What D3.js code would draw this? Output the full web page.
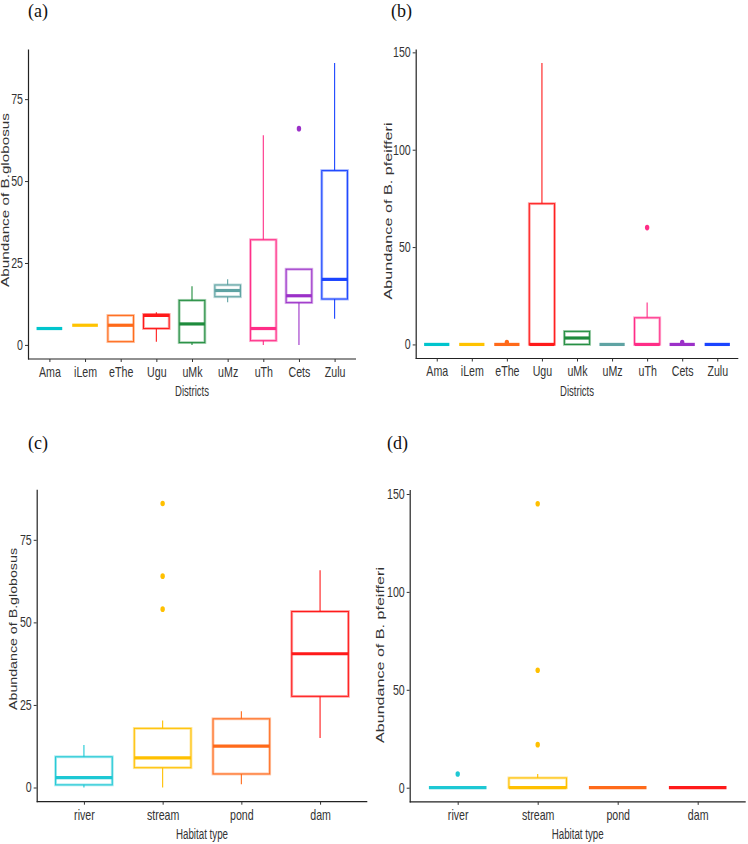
<!DOCTYPE html>
<html><head><meta charset="utf-8">
<script src="https://cdn.jsdelivr.net/npm/d3@7"></script>
<style>
body{margin:0;background:#fff;}
svg{display:block;}
</style></head>
<body>
<svg id="chart" width="748" height="844"></svg>
<script>
// ---------- data ----------
const districts = ["Ama","iLem","eThe","Ugu","uMk","uMz","uTh","Cets","Zulu"];
const districtColors = ["#00C5CD","#FFC300","#FF6A1A","#FF1A1A","#1E8B3C","#5FA3A3","#FF2D87","#9B30C8","#1A44FF"];
const habitats = ["river","stream","pond","dam"];
const habitatColors = ["#1EC8D4","#FFC000","#FF6A1A","#FF1A1A"];

// (a) B. globosus by district
const globDistLow  = [5, 6, 1, 1, 0, 13, 0, 0, 8];
const globDistQ1   = [5, 6, 1, 5, 0.7, 14.7, 1.3, 12.9, 14];
const globDistMed  = [5, 6, 6, 9, 6.4, 16.6, 5, 15, 20];
const globDistQ3   = [5, 6, 9, 9.3, 13.6, 18.3, 32.1, 23.1, 53.2];
const globDistHigh = [5, 6, 9, 10, 17.9, 20, 64, 23.1, 86];
const globDistOut  = [[], [], [], [], [], [], [], [66], []];

// (b) B. pfeifferi by district
const pfDistLow  = [0, 0, 0, 0, 0, 0, 0, 0, 0];
const pfDistQ1   = [0, 0, 0, 0, 0, 0, 0, 0, 0];
const pfDistMed  = [0, 0, 0, 0, 3.3, 0, 0, 0, 0];
const pfDistQ3   = [0, 0, 0, 72.3, 6.7, 0, 13.7, 0, 0];
const pfDistHigh = [0, 0, 0, 144.5, 6.7, 0, 21.5, 0, 0];
const pfDistOut  = [[], [], [1], [], [], [], [60], [1], []];

// (c) B. globosus by habitat
const globHabLow  = [0, 0, 1, 15];
const globHabQ1   = [0.8, 6, 4.1, 27.6];
const globHabMed  = [3, 9, 12.5, 40.5];
const globHabQ3   = [9.3, 17.9, 20.8, 53.3];
const globHabHigh = [12.9, 20.3, 23.1, 65.8];
const globHabOut  = [[], [86, 64, 54], [], []];

// (d) B. pfeifferi by habitat
const pfHabLow  = [0, 0, 0, 0];
const pfHabQ1   = [0, 0, 0, 0];
const pfHabMed  = [0, 0, 0, 0];
const pfHabQ3   = [0, 5, 0, 0];
const pfHabHigh = [0, 7, 0, 0];
const pfHabOut  = [[7], [145, 60, 22], [], []];

const yTicksGlob = [0, 25, 50, 75];
const yTicksPf = [0, 50, 100, 150];

// ---------- drawing ----------
const svg = d3.select("#chart");
const SX = 0.76; // horizontal condensing of tick/axis fonts
const FONT = "Liberation Sans, Arial, sans-serif";

function panel(o) {
  const g = svg.append("g");
  const all = [].concat(o.low, o.high, ...o.out);
  const ext = d3.extent(all);
  const pad = (ext[1] - ext[0]) * 0.05;
  const y = d3.scaleLinear().domain([ext[0] - pad, ext[1] + pad]).range([o.y1, o.y0]);
  const n = o.cats.length;
  const unit = (o.x1 - o.x0) / (n - 1 + 1.2);
  const x = d3.scalePoint().domain(o.cats).range([o.x0 + 0.6 * unit, o.x1 - 0.6 * unit]);
  const bw = unit * 0.72;

  // panel label
  g.append("text").attr("x", o.lx).attr("y", o.ly)
    .attr("font-family", "Liberation Serif, Times New Roman, serif")
    .attr("font-size", 18).attr("fill", "#111").text(o.label);

  o.cats.forEach((c, i) => {
    const cx = x(c), col = o.colors[i];
    g.append("line").attr("x1", cx).attr("x2", cx)
      .attr("y1", y(o.q3[i])).attr("y2", y(o.high[i]))
      .attr("stroke", col).attr("stroke-width", 1.1);
    g.append("line").attr("x1", cx).attr("x2", cx)
      .attr("y1", y(o.q1[i])).attr("y2", y(o.low[i]))
      .attr("stroke", col).attr("stroke-width", 1.1);
    const top = y(o.q3[i]), bot = y(o.q1[i]);
    g.append("rect").attr("x", cx - bw / 2).attr("y", top)
      .attr("width", bw).attr("height", Math.max(0, bot - top))
      .attr("fill", "none").attr("stroke", col).attr("stroke-opacity", 0.4)
      .attr("stroke-width", 2.8);
    g.append("rect").attr("x", cx - bw / 2).attr("y", top)
      .attr("width", bw).attr("height", Math.max(0, bot - top))
      .attr("fill", "none").attr("stroke", col).attr("stroke-width", 1);
    g.append("line").attr("x1", cx - bw / 2).attr("x2", cx + bw / 2)
      .attr("y1", y(o.med[i])).attr("y2", y(o.med[i]))
      .attr("stroke", col).attr("stroke-width", 3.2);
    o.out[i].forEach(v => {
      g.append("ellipse").attr("cx", cx).attr("cy", y(v))
        .attr("rx", 2.2).attr("ry", 2.8).attr("fill", col);
    });
  });

  // axes
  const ya = g.append("g").attr("transform", `translate(${o.x0},0)`)
    .call(d3.axisLeft(y).tickValues(o.yticks).tickSize(3).tickPadding(2).tickSizeOuter(0));
  ya.select(".domain").attr("stroke", "#222").attr("stroke-width", 1.2);
  ya.selectAll(".tick line").attr("stroke", "#333");
  ya.selectAll(".tick text").attr("font-family", FONT).attr("font-size", 14).attr("fill", "#333")
    .attr("x", -5 / SX).attr("transform", `scale(${SX},1)`);

  const xa = g.append("g").attr("transform", `translate(0,${o.y1})`)
    .call(d3.axisBottom(x).tickSize(3).tickPadding(5).tickSizeOuter(0));
  xa.select(".domain").attr("stroke", "#222").attr("stroke-width", 1.2).attr("d", `M${o.x0},0H${o.x1}`);
  xa.selectAll(".tick line").attr("stroke", "#333");
  xa.selectAll(".tick text").attr("font-family", FONT).attr("font-size", 14).attr("fill", "#333")
    .attr("transform", `scale(${SX},1)`);

  // titles
  g.append("text").attr("x", (o.x0 + o.x1) / 2).attr("y", o.xty)
    .attr("text-anchor", "middle")
    .attr("font-family", FONT).attr("font-size", 14).attr("fill", "#333")
    .attr("textLength", o.xtl).attr("lengthAdjust", "spacingAndGlyphs")
    .text(o.xtitle);
  g.append("text")
    .attr("transform", `translate(${o.ytx},${o.ytc}) rotate(-90)`)
    .attr("text-anchor", "middle").attr("dominant-baseline", "middle")
    .attr("font-family", FONT)
    .attr("font-size", 11.5).attr("fill", "#333")
    .attr("textLength", o.ytl).attr("lengthAdjust", "spacingAndGlyphs")
    .text(o.ytitle);
}

panel({label: "(a)", lx: 28, ly: 17, cats: districts, colors: districtColors,
  low: globDistLow, q1: globDistQ1, med: globDistMed, q3: globDistQ3, high: globDistHigh, out: globDistOut,
  yticks: yTicksGlob, x0: 28, x1: 356, y0: 49, y1: 359,
  xtitle: "Districts", xty: 396, xtl: 34, ytitle: "Abundance of B.globosus", ytx: 6, ytc: 200, ytl: 174});

panel({label: "(b)", lx: 391, ly: 17, cats: districts, colors: districtColors,
  low: pfDistLow, q1: pfDistQ1, med: pfDistMed, q3: pfDistQ3, high: pfDistHigh, out: pfDistOut,
  yticks: yTicksPf, x0: 415.7, x1: 738.3, y0: 49, y1: 358.5,
  xtitle: "Districts", xty: 396, xtl: 34, ytitle: "Abundance of B. pfeifferi", ytx: 389, ytc: 211, ytl: 177});

panel({label: "(c)", lx: 28, ly: 449, cats: habitats, colors: habitatColors,
  low: globHabLow, q1: globHabQ1, med: globHabMed, q3: globHabQ3, high: globHabHigh, out: globHabOut,
  yticks: yTicksGlob, x0: 36.7, x1: 367.3, y0: 489.3, y1: 801.7,
  xtitle: "Habitat type", xty: 839, xtl: 52, ytitle: "Abundance of B.globosus", ytx: 14, ytc: 629, ytl: 162});

panel({label: "(d)", lx: 387, ly: 449, cats: habitats, colors: habitatColors,
  low: pfHabLow, q1: pfHabQ1, med: pfHabMed, q3: pfHabQ3, high: pfHabHigh, out: pfHabOut,
  yticks: yTicksPf, x0: 409.7, x1: 745.7, y0: 489.6, y1: 801.9,
  xtitle: "Habitat type", xty: 839, xtl: 52, ytitle: "Abundance of B. pfeifferi", ytx: 381, ytc: 655, ytl: 176});
</script>
</body></html>
